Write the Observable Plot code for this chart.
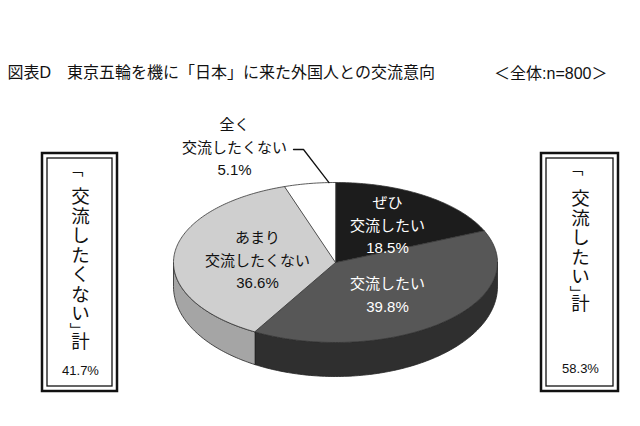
<!DOCTYPE html>
<html>
<head>
<meta charset="utf-8">
<script src="https://cdn.jsdelivr.net/npm/d3@7"></script>
<script src="https://cdn.jsdelivr.net/npm/@observablehq/plot@0.6"></script>
<style>
  html, body { margin: 0; padding: 0; background: #fff; }
</style>
</head>
<body>
<div id="chart"></div>
<script>
// ---------------- data ----------------
const title = "図表D　東京五輪を機に「日本」に来た外国人との交流意向";
const sampleNote = "＜全体:n=800＞";
const categories = ["ぜひ交流したい", "交流したい", "あまり交流したくない", "全く交流したくない"];
const labelLines = [["ぜひ", "交流したい"], ["交流したい"], ["あまり", "交流したくない"], ["全く", "交流したくない"]];
const values = [18.5, 39.8, 36.6, 5.1];
const groupNames = ["「交流したくない」計", "「交流したい」計"];
const groupValues = [41.7, 58.3];

// ---------------- style / layout ----------------
const W = 640, H = 426;
const FONT = "'Liberation Sans', 'Noto Sans CJK JP', sans-serif";
const topColors = ["#1c1c1c", "#575757", "#cfcfcf", "#ffffff"];
const sideColors = ["#111111", "#2f2f2f", "#a5a5a5", "#e6e6e6"];
const labelColors = ["#ffffff", "#ffffff", "#111111", "#111111"];
const pie = {cx: 335, cy: 262, rx: 162, ry: 80, bottomDy: 24, bottomRy: 90};
const labelPos = [[387, 223], [387, 293], [257, 258], [234, 145]];
const boxes = [
  {x1: 42, x2: 117, y1: 153, y2: 391, cx: 80, openY: 173, firstY: 197, step: 19.5, closeDy: 11, lastDy: 28, valueY: 370},
  {x1: 541, x2: 618, y1: 153, y2: 391, cx: 580, openY: 172, firstY: 199, step: 19.5, closeDy: 11, lastDy: 27, valueY: 368}
];
const BR_SIZE = 15, CH_SIZE = 18.5;

// ---------------- geometry helpers ----------------
const topPt = (t) => ({x: pie.cx + pie.rx * Math.sin(t), y: pie.cy - pie.ry * Math.cos(t)});
const botPt = (t) => ({x: pie.cx + pie.rx * Math.sin(t), y: pie.cy + pie.bottomDy - pie.bottomRy * Math.cos(t)});
function arc(a, b, f) {
  const n = Math.max(2, Math.ceil(Math.abs(b - a) / (Math.PI / 180)));
  return d3.range(n + 1).map(i => f(a + (b - a) * i / n));
}
const total = d3.sum(values);
const cum = d3.cumsum(values);
const slices = values.map((v, i) => ({
  i, a0: 2 * Math.PI * (cum[i] - v) / total, a1: 2 * Math.PI * cum[i] / total
}));

const topPolys = slices.map(s => [{x: pie.cx, y: pie.cy}, ...arc(s.a0, s.a1, topPt)]);
const sidePolys = slices.map(s => {
  const a = Math.max(s.a0, Math.PI / 2), b = Math.min(s.a1, 3 * Math.PI / 2);
  if (a >= b) return null;
  return {i: s.i, pts: [...arc(a, b, topPt), ...arc(b, a, botPt)]};
}).filter(Boolean);

// pie labels
const pieLabels = slices.map((s, i) => ({
  x: labelPos[i][0], y: labelPos[i][1],
  text: [...labelLines[i], values[i].toFixed(1) + "%"].join("\n"),
  fill: labelColors[i]
}));

// leader line for the small outer slice
const small = slices[3];
const leaderEnd = topPt((small.a0 + small.a1) / 2 + 0.12);
const leader = [{x: 293, y: 149}, {x: 303, y: 149}, {x: leaderEnd.x, y: leaderEnd.y}];

// vertical box texts (brackets rotated 90° into their vertical form)
function verticalRows(name, b) {
  const chars = [], brackets = [];
  const body = [...name].filter(c => c !== "「" && c !== "」");
  const inner = body.slice(0, -1), last = body[body.length - 1];
  // opening bracket glyph: rotated glyph center sits ~(+0.2em, +0.25em) from anchor
  brackets.push({x: b.cx - 3 - 0.2 * BR_SIZE, y: b.openY - 0.25 * BR_SIZE, t: "「"});
  inner.forEach((c, k) => chars.push({x: b.cx, y: b.firstY + k * b.step, t: c}));
  const lastY = b.firstY + (inner.length - 1) * b.step;
  // closing bracket glyph: rotated glyph center sits ~(-0.08em, -0.3em) from anchor
  brackets.push({x: b.cx - 5 + 0.08 * BR_SIZE, y: lastY + b.closeDy + 0.3 * BR_SIZE, t: "」"});
  chars.push({x: b.cx, y: lastY + b.lastDy, t: last});
  return {chars, brackets};
}
const vLeft = verticalRows(groupNames[0], boxes[0]);
const vRight = verticalRows(groupNames[1], boxes[1]);
const vChars = [...vLeft.chars, ...vRight.chars];
const vBrackets = [...vLeft.brackets, ...vRight.brackets];
const boxValues = boxes.map((b, i) => ({x: b.cx, y: b.valueY, t: groupValues[i].toFixed(1) + "%"}));

// ---------------- marks ----------------
const marks = [];
sidePolys.forEach(p => marks.push(Plot.line(p.pts, {x: "x", y: "y", curve: "linear-closed", fill: sideColors[p.i], stroke: "#222", strokeWidth: 0.8})));
topPolys.forEach((p, i) => marks.push(Plot.line(p, {x: "x", y: "y", curve: "linear-closed", fill: topColors[i], stroke: "#333", strokeWidth: 0.8})));
marks.push(Plot.line(leader, {x: "x", y: "y", stroke: "#111", strokeWidth: 1.3}));
marks.push(Plot.text(pieLabels, {x: "x", y: "y", text: "text", fill: "fill", fontSize: 15, lineHeight: 1.5, textAnchor: "middle"}));
// boxes (double border)
marks.push(Plot.rect(boxes, {x1: "x1", x2: "x2", y1: "y1", y2: "y2", fill: "none", stroke: "#111", strokeWidth: 2.5}));
marks.push(Plot.rect(boxes, {x1: d => d.x1 + 5, x2: d => d.x2 - 5, y1: d => d.y1 + 5, y2: d => d.y2 - 5, fill: "none", stroke: "#111", strokeWidth: 1.3}));
marks.push(Plot.text(vChars, {x: "x", y: "y", text: "t", fontSize: CH_SIZE, fill: "#111"}));
marks.push(Plot.text(vBrackets, {x: "x", y: "y", text: "t", fontSize: BR_SIZE, rotate: 90, fill: "#111", fontFamily: "'Noto Sans CJK JP', sans-serif"}));
marks.push(Plot.text(boxValues, {x: "x", y: "y", text: "t", fontSize: 13, fill: "#111"}));
// title and note
marks.push(Plot.text([{x: 7, y: 72, t: title}], {x: "x", y: "y", text: "t", fontSize: 16, textAnchor: "start", fill: "#111"}));
marks.push(Plot.text([{x: 607, y: 73, t: sampleNote}], {x: "x", y: "y", text: "t", fontSize: 16, textAnchor: "end", fill: "#111"}));

const chart = Plot.plot({
  width: W, height: H, margin: 0,
  x: {domain: [0, W], range: [0, W], axis: null},
  y: {domain: [0, H], range: [0, H], axis: null},
  style: {fontFamily: FONT, background: "#fff", color: "#111"},
  marks
});
document.getElementById("chart").appendChild(chart);
</script>
</body>
</html>
